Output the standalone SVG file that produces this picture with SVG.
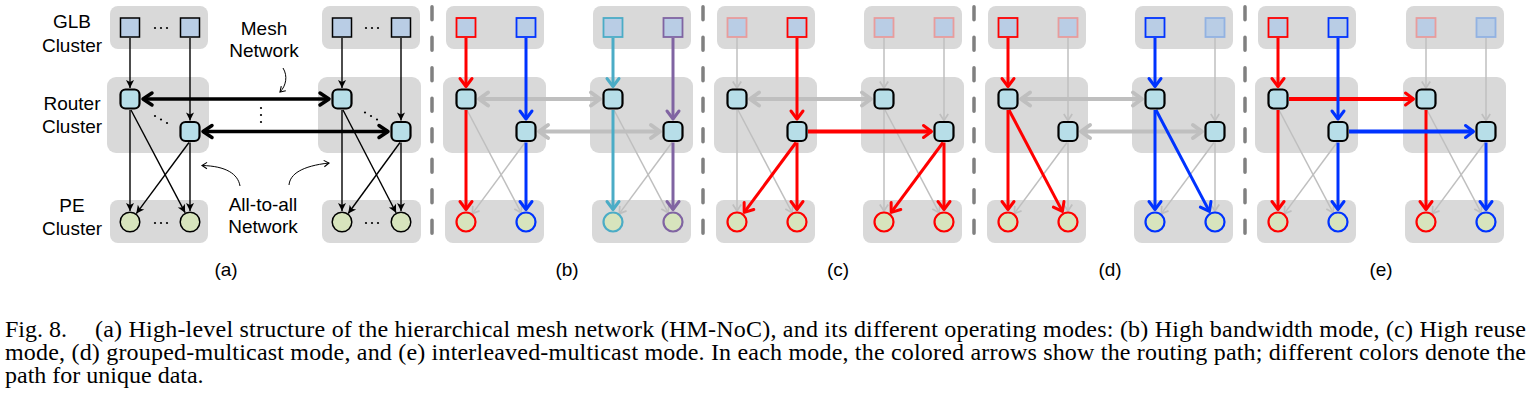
<svg xmlns="http://www.w3.org/2000/svg" width="1531" height="407" viewBox="0 0 1531 407">
<style>
.box{fill:#D9D9D9;stroke:none}
.lbl{font-family:"Liberation Sans",Arial,sans-serif;font-size:19px;fill:#000;text-anchor:middle}
.cap{font-family:"Liberation Serif","Times New Roman",serif;font-size:24px;fill:#000}
.glb{fill:#B9CDE5;stroke-width:1.8}
.rt{fill:#B7DEE8;stroke:#000;stroke-width:2.2}
.pe{fill:#D7E4BD;stroke-width:2.2}
.kt{fill:none;stroke:#000;stroke-width:1.4}
.km{fill:none;stroke:#000;stroke-width:3.5}
.gt{fill:none;stroke:#BFBFBF;stroke-width:1.5}
.gm{fill:none;stroke:#BFBFBF;stroke-width:4}
.cr{fill:none;stroke:#FF0000;stroke-width:3}
.cb{fill:none;stroke:#0033FF;stroke-width:3}
.cc{fill:none;stroke:#4BACC6;stroke-width:3}
.cp{fill:none;stroke:#8064A2;stroke-width:3}
.h{stroke-width:3.8}
.sep{stroke:#808080;stroke-width:3.5;stroke-dasharray:13 17.5;stroke-linecap:round}
.dot{fill:#000}
</style>
<defs>
<marker id="at" markerUnits="userSpaceOnUse" markerWidth="20" markerHeight="20" viewBox="-10 -10 20 20" refX="0" refY="0" orient="auto" overflow="visible"><path d="M0,0 L-8,-4 L-6,0 L-8,4 Z" fill="#000"/></marker>
<marker id="as" markerUnits="userSpaceOnUse" markerWidth="20" markerHeight="20" viewBox="-10 -10 20 20" refX="0" refY="0" orient="auto" overflow="visible"><path d="M-5,-3.2 L0,0 L-5,3.2" fill="none" stroke="#000" stroke-width="1.1"/></marker>
<marker id="am" markerUnits="userSpaceOnUse" markerWidth="30" markerHeight="30" viewBox="-15 -15 30 30" refX="0" refY="0" orient="auto-start-reverse" overflow="visible"><path d="M-9,-6 L0,0 L-9,6" fill="none" stroke="#000" stroke-width="3.5" stroke-linejoin="round" stroke-linecap="round"/></marker>
<marker id="ag" markerUnits="userSpaceOnUse" markerWidth="20" markerHeight="20" viewBox="-10 -10 20 20" refX="0" refY="0" orient="auto" overflow="visible"><path d="M-6.5,-4.2 L0,0 L-6.5,4.2" fill="none" stroke="#BFBFBF" stroke-width="1.7" stroke-linejoin="round"/></marker>
<marker id="agm" markerUnits="userSpaceOnUse" markerWidth="30" markerHeight="30" viewBox="-15 -15 30 30" refX="0" refY="0" orient="auto-start-reverse" overflow="visible"><path d="M-9,-6.5 L0,0 L-9,6.5" fill="none" stroke="#BFBFBF" stroke-width="4" stroke-linejoin="round" stroke-linecap="round"/></marker>
<marker id="ar" markerUnits="userSpaceOnUse" markerWidth="30" markerHeight="30" viewBox="-15 -15 30 30" refX="0" refY="0" orient="auto" overflow="visible"><path d="M-8,-6 L0,0 L-8,6" fill="none" stroke="#FF0000" stroke-width="3" stroke-linejoin="round" stroke-linecap="round"/></marker>
<marker id="ab" markerUnits="userSpaceOnUse" markerWidth="30" markerHeight="30" viewBox="-15 -15 30 30" refX="0" refY="0" orient="auto" overflow="visible"><path d="M-8,-6 L0,0 L-8,6" fill="none" stroke="#0033FF" stroke-width="3" stroke-linejoin="round" stroke-linecap="round"/></marker>
<marker id="ac" markerUnits="userSpaceOnUse" markerWidth="30" markerHeight="30" viewBox="-15 -15 30 30" refX="0" refY="0" orient="auto" overflow="visible"><path d="M-8,-6 L0,0 L-8,6" fill="none" stroke="#4BACC6" stroke-width="3" stroke-linejoin="round" stroke-linecap="round"/></marker>
<marker id="ap" markerUnits="userSpaceOnUse" markerWidth="30" markerHeight="30" viewBox="-15 -15 30 30" refX="0" refY="0" orient="auto" overflow="visible"><path d="M-8,-6 L0,0 L-8,6" fill="none" stroke="#8064A2" stroke-width="3" stroke-linejoin="round" stroke-linecap="round"/></marker>
</defs>
<rect width="1531" height="407" fill="#FFFFFF"/>

<!-- ================= Panel (a) ================= -->
<g id="panel-a">
  <g id="a-clusters">
    <rect class="box" x="110" y="6" width="98" height="43" rx="8"/>
    <rect class="box" x="107" y="77" width="102" height="76" rx="9"/>
    <rect class="box" x="110" y="200" width="98" height="43" rx="8"/>
    <rect class="box" x="322" y="6" width="98" height="43" rx="8"/>
    <rect class="box" x="318" y="77" width="103" height="76" rx="9"/>
    <rect class="box" x="322" y="200" width="99" height="43" rx="8"/>
  </g>
  <g id="a-labels">
    <text class="lbl" x="72" y="28">GLB</text>
    <text class="lbl" x="72" y="52">Cluster</text>
    <text class="lbl" x="72" y="110">Router</text>
    <text class="lbl" x="72" y="133">Cluster</text>
    <text class="lbl" x="72" y="212">PE</text>
    <text class="lbl" x="72" y="235">Cluster</text>
    <text class="lbl" x="264" y="35">Mesh</text>
    <text class="lbl" x="264" y="57">Network</text>
    <text class="lbl" x="263" y="211">All-to-all</text>
    <text class="lbl" x="263" y="233">Network</text>
  </g>
  <g id="a-connectors">
    <path class="kt" marker-end="url(#at)" d="M130,38 V88"/>
    <path class="kt" marker-end="url(#at)" d="M190,38 V120.5"/>
    <path class="kt" marker-end="url(#at)" d="M342,38 V88"/>
    <path class="kt" marker-end="url(#at)" d="M401,38 V120.5"/>
    <path class="kt" marker-end="url(#at)" d="M130,110 V211"/>
    <path class="kt" marker-end="url(#at)" d="M190,142.5 V211"/>
    <path class="kt" marker-end="url(#at)" d="M342,110 V211"/>
    <path class="kt" marker-end="url(#at)" d="M401,142.5 V211"/>
    <path class="kt" marker-end="url(#at)" d="M131,110 L185.1,212.7"/>
    <path class="kt" marker-end="url(#at)" d="M189,142.5 L136.3,213.6"/>
    <path class="kt" marker-end="url(#at)" d="M343,110 L396.1,212.7"/>
    <path class="kt" marker-end="url(#at)" d="M400,142.5 L348.2,213.5"/>
    <path class="km" marker-start="url(#am)" marker-end="url(#am)" d="M143,99 H329"/>
    <path class="km" marker-start="url(#am)" marker-end="url(#am)" d="M203,131.5 H388"/>
    <path class="kt" style="stroke-width:1" marker-end="url(#as)" d="M283,68 C288,76 286,86 280,92"/>
    <path class="kt" style="stroke-width:1" marker-end="url(#as)" d="M240,186 C238,174 226,166 202,165.5"/>
    <path class="kt" style="stroke-width:1" marker-end="url(#as)" d="M289,185 C290,174 302,166 329,163"/>
  </g>
  <g id="a-dots">
    <circle class="dot" cx="155" cy="28" r="1.1"/><circle class="dot" cx="161" cy="28" r="1.1"/><circle class="dot" cx="167" cy="28" r="1.1"/>
    <circle class="dot" cx="366" cy="28" r="1.1"/><circle class="dot" cx="372" cy="28" r="1.1"/><circle class="dot" cx="378" cy="28" r="1.1"/>
    <circle class="dot" cx="155" cy="223" r="1.1"/><circle class="dot" cx="161" cy="223" r="1.1"/><circle class="dot" cx="167" cy="223" r="1.1"/>
    <circle class="dot" cx="366" cy="223" r="1.1"/><circle class="dot" cx="372" cy="223" r="1.1"/><circle class="dot" cx="378" cy="223" r="1.1"/>
    <circle class="dot" cx="261" cy="108" r="1.1"/><circle class="dot" cx="261" cy="115" r="1.1"/><circle class="dot" cx="261" cy="122" r="1.1"/>
    <circle class="dot" cx="155" cy="116" r="1.1"/><circle class="dot" cx="161" cy="119.5" r="1.1"/><circle class="dot" cx="167" cy="123" r="1.1"/>
    <circle class="dot" cx="365" cy="112.5" r="1.1"/><circle class="dot" cx="371" cy="116" r="1.1"/><circle class="dot" cx="377" cy="119.5" r="1.1"/>
  </g>
  <g id="a-glb-1"><rect class="glb" stroke="#000" style="stroke-width:1.5" x="120.5" y="18" width="19" height="19"/></g>
  <g id="a-glb-2"><rect class="glb" stroke="#000" style="stroke-width:1.5" x="180.5" y="18" width="19" height="19"/></g>
  <g id="a-glb-3"><rect class="glb" stroke="#000" style="stroke-width:1.5" x="332.5" y="18" width="19" height="19"/></g>
  <g id="a-glb-4"><rect class="glb" stroke="#000" style="stroke-width:1.5" x="391.5" y="18" width="19" height="19"/></g>
  <g id="a-router-1"><rect class="rt" x="120.5" y="89.5" width="19" height="19" rx="5"/></g>
  <g id="a-router-2"><rect class="rt" x="180.5" y="122" width="19" height="19" rx="5"/></g>
  <g id="a-router-3"><rect class="rt" x="332.5" y="89.5" width="19" height="19" rx="5"/></g>
  <g id="a-router-4"><rect class="rt" x="391.5" y="122" width="19" height="19" rx="5"/></g>
  <g id="a-pe-1"><circle class="pe" stroke="#000" style="stroke-width:1.5" cx="130" cy="222" r="9.8"/></g>
  <g id="a-pe-2"><circle class="pe" stroke="#000" style="stroke-width:1.5" cx="190" cy="222" r="9.8"/></g>
  <g id="a-pe-3"><circle class="pe" stroke="#000" style="stroke-width:1.5" cx="342" cy="222" r="9.8"/></g>
  <g id="a-pe-4"><circle class="pe" stroke="#000" style="stroke-width:1.5" cx="401" cy="222" r="9.8"/></g>
  <text class="lbl" x="226" y="276">(a)</text>
</g>

<!-- separators -->
<g id="separators">
  <line class="sep" x1="432" y1="6.75" x2="432" y2="233.25"/>
  <line class="sep" x1="703" y1="6.75" x2="703" y2="233.25"/>
  <line class="sep" x1="974" y1="6.75" x2="974" y2="233.25"/>
  <line class="sep" x1="1245" y1="6.75" x2="1245" y2="233.25"/>
</g>

<!-- ================= Panel (b) ================= -->
<g id="panel-b" transform="translate(466,0)">
  <g id="b-clusters">
    <rect class="box" x="-20" y="6" width="98" height="43" rx="8"/>
    <rect class="box" x="-23" y="77" width="103" height="76" rx="9"/>
    <rect class="box" x="-21" y="200" width="99" height="43" rx="8"/>
    <rect class="box" x="127" y="6" width="98" height="43" rx="8"/>
    <rect class="box" x="124" y="77" width="103" height="76" rx="9"/>
    <rect class="box" x="126" y="200" width="99" height="43" rx="8"/>
  </g>
  <g id="b-connectors">
    <path class="gt" marker-end="url(#ag)" d="M1,110 L55.1,212.7"/>
    <path class="gt" marker-end="url(#ag)" d="M59,142.5 L6.3,213.6"/>
    <path class="gt" marker-end="url(#ag)" d="M148,110 L202.1,212.7"/>
    <path class="gt" marker-end="url(#ag)" d="M206,142.5 L153.3,213.6"/>
    <path class="gm" marker-start="url(#agm)" marker-end="url(#agm)" d="M13,99 H134"/>
    <path class="gm" marker-start="url(#agm)" marker-end="url(#agm)" d="M73,131.5 H194"/>
    <path class="cr" marker-end="url(#ar)" d="M0,38 V86.5"/>
    <path class="cr" marker-end="url(#ar)" d="M0,110 V209.5"/>
    <path class="cb" marker-end="url(#ab)" d="M60,38 V119"/>
    <path class="cb" marker-end="url(#ab)" d="M60,142.5 V209.5"/>
    <path class="cc" marker-end="url(#ac)" d="M147,38 V86.5"/>
    <path class="cc" marker-end="url(#ac)" d="M147,110 V209.5"/>
    <path class="cp" marker-end="url(#ap)" d="M207,38 V119"/>
    <path class="cp" marker-end="url(#ap)" d="M207,142.5 V209.5"/>
  </g>
  <g id="b-glb-1"><rect class="glb" stroke="#FF0000" x="-9.5" y="18" width="19" height="19"/></g>
  <g id="b-glb-2"><rect class="glb" stroke="#0033FF" x="50.5" y="18" width="19" height="19"/></g>
  <g id="b-glb-3"><rect class="glb" stroke="#4BACC6" x="137.5" y="18" width="19" height="19"/></g>
  <g id="b-glb-4"><rect class="glb" stroke="#8064A2" x="197.5" y="18" width="19" height="19"/></g>
  <g id="b-router-1"><rect class="rt" x="-9.5" y="89.5" width="19" height="19" rx="5"/></g>
  <g id="b-router-2"><rect class="rt" x="50.5" y="122" width="19" height="19" rx="5"/></g>
  <g id="b-router-3"><rect class="rt" x="137.5" y="89.5" width="19" height="19" rx="5"/></g>
  <g id="b-router-4"><rect class="rt" x="197.5" y="122" width="19" height="19" rx="5"/></g>
  <g id="b-pe-1"><circle class="pe" stroke="#FF0000" cx="0" cy="222" r="9.5"/></g>
  <g id="b-pe-2"><circle class="pe" stroke="#0033FF" cx="60" cy="222" r="9.5"/></g>
  <g id="b-pe-3"><circle class="pe" stroke="#4BACC6" cx="147" cy="222" r="9.5"/></g>
  <g id="b-pe-4"><circle class="pe" stroke="#8064A2" cx="207" cy="222" r="9.5"/></g>
  <text class="lbl" x="101" y="276">(b)</text>
</g>

<!-- ================= Panel (c) ================= -->
<g id="panel-c" transform="translate(737,0)">
  <g id="c-clusters">
    <rect class="box" x="-20" y="6" width="98" height="43" rx="8"/>
    <rect class="box" x="-23" y="77" width="103" height="76" rx="9"/>
    <rect class="box" x="-21" y="200" width="99" height="43" rx="8"/>
    <rect class="box" x="127" y="6" width="98" height="43" rx="8"/>
    <rect class="box" x="124" y="77" width="103" height="76" rx="9"/>
    <rect class="box" x="126" y="200" width="99" height="43" rx="8"/>
  </g>
  <g id="c-connectors">
    <path class="gt" marker-end="url(#ag)" d="M0,38 V88"/>
    <path class="gt" marker-end="url(#ag)" d="M147,38 V88"/>
    <path class="gt" marker-end="url(#ag)" d="M207,38 V120.5"/>
    <path class="gt" marker-end="url(#ag)" d="M0,110 V211"/>
    <path class="gt" marker-end="url(#ag)" d="M1,110 L55.1,212.7"/>
    <path class="gt" marker-end="url(#ag)" d="M147,110 V211"/>
    <path class="gt" marker-end="url(#ag)" d="M148,110 L202.1,212.7"/>
    <path class="gm" marker-start="url(#agm)" marker-end="url(#agm)" d="M13,99 H134"/>
    <path class="cr" marker-end="url(#ar)" d="M60,38 V119"/>
    <path class="cr" marker-end="url(#ar)" d="M60,142.5 V209.5"/>
    <path class="cr" marker-end="url(#ar)" d="M59,142.5 L7.2,212.4"/>
    <path class="cr h" marker-end="url(#ar)" d="M71,131.5 H194.5"/>
    <path class="cr" marker-end="url(#ar)" d="M207,142.5 V209.5"/>
    <path class="cr" marker-end="url(#ar)" d="M206,142.5 L154.2,212.4"/>
  </g>
  <g id="c-glb-1"><rect class="glb" stroke="#E89C9C" x="-9.5" y="18" width="19" height="19"/></g>
  <g id="c-glb-2"><rect class="glb" stroke="#FF0000" x="50.5" y="18" width="19" height="19"/></g>
  <g id="c-glb-3"><rect class="glb" stroke="#E89C9C" x="137.5" y="18" width="19" height="19"/></g>
  <g id="c-glb-4"><rect class="glb" stroke="#E89C9C" x="197.5" y="18" width="19" height="19"/></g>
  <g id="c-router-1"><rect class="rt" x="-9.5" y="89.5" width="19" height="19" rx="5"/></g>
  <g id="c-router-2"><rect class="rt" x="50.5" y="122" width="19" height="19" rx="5"/></g>
  <g id="c-router-3"><rect class="rt" x="137.5" y="89.5" width="19" height="19" rx="5"/></g>
  <g id="c-router-4"><rect class="rt" x="197.5" y="122" width="19" height="19" rx="5"/></g>
  <g id="c-pe-1"><circle class="pe" stroke="#FF0000" cx="0" cy="222" r="9.5"/></g>
  <g id="c-pe-2"><circle class="pe" stroke="#FF0000" cx="60" cy="222" r="9.5"/></g>
  <g id="c-pe-3"><circle class="pe" stroke="#FF0000" cx="147" cy="222" r="9.5"/></g>
  <g id="c-pe-4"><circle class="pe" stroke="#FF0000" cx="207" cy="222" r="9.5"/></g>
  <text class="lbl" x="101" y="276">(c)</text>
</g>

<!-- ================= Panel (d) ================= -->
<g id="panel-d" transform="translate(1008,0)">
  <g id="d-clusters">
    <rect class="box" x="-20" y="6" width="98" height="43" rx="8"/>
    <rect class="box" x="-23" y="77" width="103" height="76" rx="9"/>
    <rect class="box" x="-21" y="200" width="99" height="43" rx="8"/>
    <rect class="box" x="127" y="6" width="98" height="43" rx="8"/>
    <rect class="box" x="124" y="77" width="103" height="76" rx="9"/>
    <rect class="box" x="126" y="200" width="99" height="43" rx="8"/>
  </g>
  <g id="d-connectors">
    <path class="gt" marker-end="url(#ag)" d="M60,38 V120.5"/>
    <path class="gt" marker-end="url(#ag)" d="M207,38 V120.5"/>
    <path class="gt" marker-end="url(#ag)" d="M60,142.5 V211"/>
    <path class="gt" marker-end="url(#ag)" d="M59,142.5 L6.3,213.6"/>
    <path class="gt" marker-end="url(#ag)" d="M207,142.5 V211"/>
    <path class="gt" marker-end="url(#ag)" d="M206,142.5 L153.3,213.6"/>
    <path class="gm" marker-start="url(#agm)" marker-end="url(#agm)" d="M13,99 H134"/>
    <path class="gm" marker-start="url(#agm)" marker-end="url(#agm)" d="M73,131.5 H194"/>
    <path class="cr" marker-end="url(#ar)" d="M0,38 V86.5"/>
    <path class="cr" marker-end="url(#ar)" d="M0,110 V209.5"/>
    <path class="cr" marker-end="url(#ar)" d="M1,110 L54.4,211.4"/>
    <path class="cb" marker-end="url(#ab)" d="M147,38 V86.5"/>
    <path class="cb" marker-end="url(#ab)" d="M147,110 V209.5"/>
    <path class="cb" marker-end="url(#ab)" d="M148,110 L201.4,211.4"/>
  </g>
  <g id="d-glb-1"><rect class="glb" stroke="#FF0000" x="-9.5" y="18" width="19" height="19"/></g>
  <g id="d-glb-2"><rect class="glb" stroke="#E89C9C" x="50.5" y="18" width="19" height="19"/></g>
  <g id="d-glb-3"><rect class="glb" stroke="#0033FF" x="137.5" y="18" width="19" height="19"/></g>
  <g id="d-glb-4"><rect class="glb" stroke="#92B2E2" x="197.5" y="18" width="19" height="19"/></g>
  <g id="d-router-1"><rect class="rt" x="-9.5" y="89.5" width="19" height="19" rx="5"/></g>
  <g id="d-router-2"><rect class="rt" x="50.5" y="122" width="19" height="19" rx="5"/></g>
  <g id="d-router-3"><rect class="rt" x="137.5" y="89.5" width="19" height="19" rx="5"/></g>
  <g id="d-router-4"><rect class="rt" x="197.5" y="122" width="19" height="19" rx="5"/></g>
  <g id="d-pe-1"><circle class="pe" stroke="#FF0000" cx="0" cy="222" r="9.5"/></g>
  <g id="d-pe-2"><circle class="pe" stroke="#FF0000" cx="60" cy="222" r="9.5"/></g>
  <g id="d-pe-3"><circle class="pe" stroke="#0033FF" cx="147" cy="222" r="9.5"/></g>
  <g id="d-pe-4"><circle class="pe" stroke="#0033FF" cx="207" cy="222" r="9.5"/></g>
  <text class="lbl" x="102" y="276">(d)</text>
</g>

<!-- ================= Panel (e) ================= -->
<g id="panel-e" transform="translate(1278,0)">
  <g id="e-clusters">
    <rect class="box" x="-20" y="6" width="98" height="43" rx="8"/>
    <rect class="box" x="-23" y="77" width="103" height="76" rx="9"/>
    <rect class="box" x="-21" y="200" width="99" height="43" rx="8"/>
    <rect class="box" x="128" y="6" width="98" height="43" rx="8"/>
    <rect class="box" x="125" y="77" width="103" height="76" rx="9"/>
    <rect class="box" x="127" y="200" width="99" height="43" rx="8"/>
  </g>
  <g id="e-connectors">
    <path class="gt" marker-end="url(#ag)" d="M148,38 V88"/>
    <path class="gt" marker-end="url(#ag)" d="M208,38 V120.5"/>
    <path class="gt" marker-end="url(#ag)" d="M1,110 L55.1,212.7"/>
    <path class="gt" marker-end="url(#ag)" d="M59,142.5 L6.3,213.6"/>
    <path class="gt" marker-end="url(#ag)" d="M149,110 L203.1,212.7"/>
    <path class="gt" marker-end="url(#ag)" d="M207,142.5 L154.3,213.6"/>
    <path class="cr" marker-end="url(#ar)" d="M0,38 V86.5"/>
    <path class="cr" marker-end="url(#ar)" d="M0,110 V209.5"/>
    <path class="cr h" marker-end="url(#ar)" d="M11,99 H135.5"/>
    <path class="cr" marker-end="url(#ar)" d="M148,110 V209.5"/>
    <path class="cb" marker-end="url(#ab)" d="M60,38 V119"/>
    <path class="cb" marker-end="url(#ab)" d="M60,142.5 V209.5"/>
    <path class="cb h" marker-end="url(#ab)" d="M71,131.5 H195.5"/>
    <path class="cb" marker-end="url(#ab)" d="M208,142.5 V209.5"/>
  </g>
  <g id="e-glb-1"><rect class="glb" stroke="#FF0000" x="-9.5" y="18" width="19" height="19"/></g>
  <g id="e-glb-2"><rect class="glb" stroke="#0033FF" x="50.5" y="18" width="19" height="19"/></g>
  <g id="e-glb-3"><rect class="glb" stroke="#E89C9C" x="138.5" y="18" width="19" height="19"/></g>
  <g id="e-glb-4"><rect class="glb" stroke="#92B2E2" x="198.5" y="18" width="19" height="19"/></g>
  <g id="e-router-1"><rect class="rt" x="-9.5" y="89.5" width="19" height="19" rx="5"/></g>
  <g id="e-router-2"><rect class="rt" x="50.5" y="122" width="19" height="19" rx="5"/></g>
  <g id="e-router-3"><rect class="rt" x="138.5" y="89.5" width="19" height="19" rx="5"/></g>
  <g id="e-router-4"><rect class="rt" x="198.5" y="122" width="19" height="19" rx="5"/></g>
  <g id="e-pe-1"><circle class="pe" stroke="#FF0000" cx="0" cy="222" r="9.5"/></g>
  <g id="e-pe-2"><circle class="pe" stroke="#0033FF" cx="60" cy="222" r="9.5"/></g>
  <g id="e-pe-3"><circle class="pe" stroke="#FF0000" cx="148" cy="222" r="9.5"/></g>
  <g id="e-pe-4"><circle class="pe" stroke="#0033FF" cx="208" cy="222" r="9.5"/></g>
  <text class="lbl" x="103" y="276">(e)</text>
</g>

<!-- caption -->
<g id="caption">
  <text class="cap" y="337"><tspan x="5">Fig. 8.</tspan><tspan x="95" textLength="1431" lengthAdjust="spacing">(a) High-level structure of the hierarchical mesh network (HM-NoC), and its different operating modes: (b) High bandwidth mode, (c) High reuse</tspan></text>
  <text class="cap" x="5" y="360" textLength="1521" lengthAdjust="spacing">mode, (d) grouped-multicast mode, and (e) interleaved-multicast mode. In each mode, the colored arrows show the routing path; different colors denote the</text>
  <text class="cap" x="5" y="383">path for unique data.</text>
</g>
</svg>
